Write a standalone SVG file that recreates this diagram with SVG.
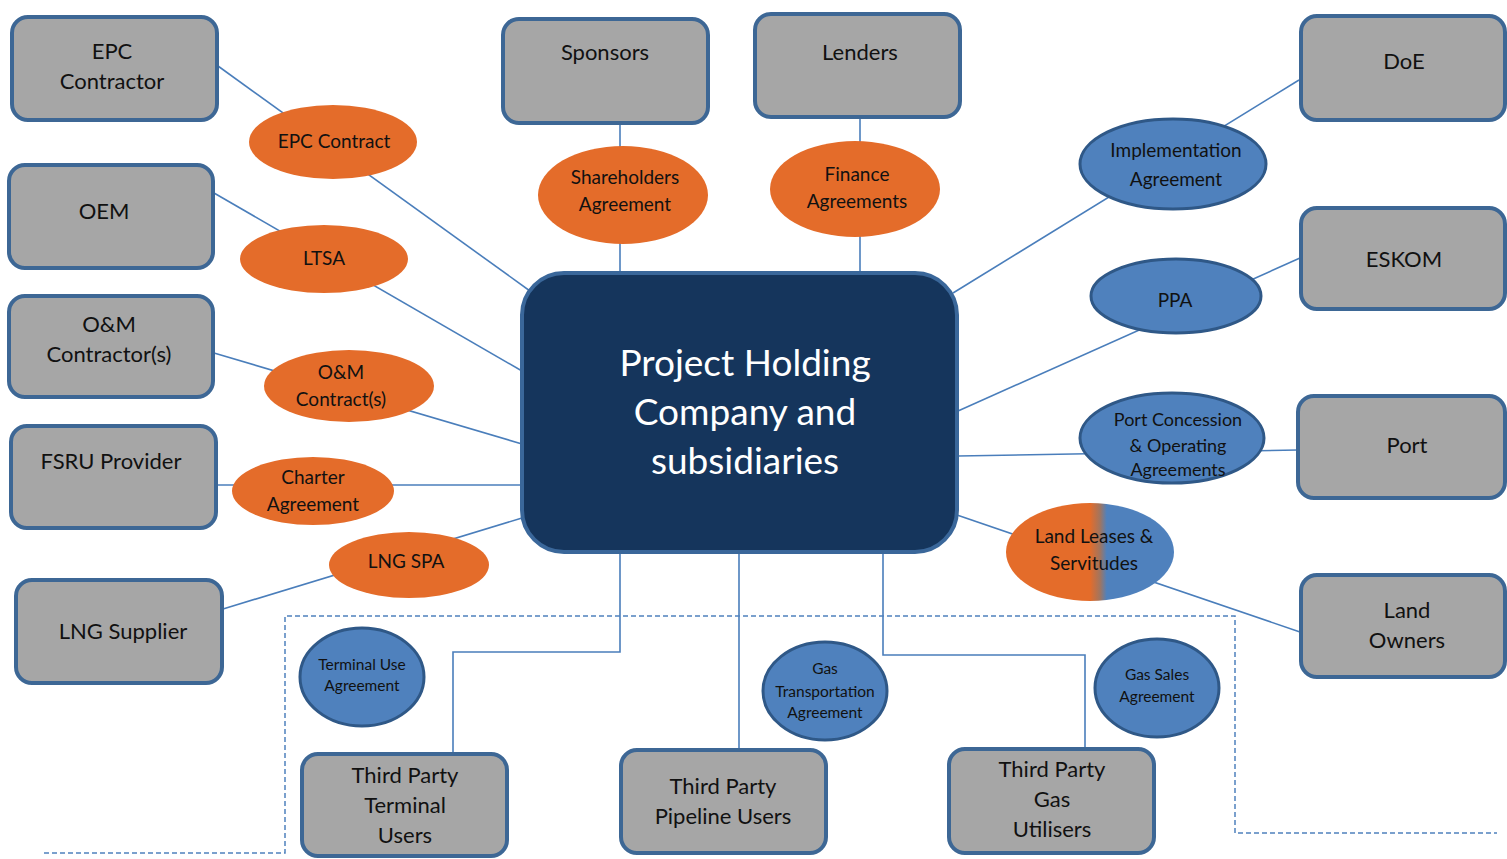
<svg xmlns="http://www.w3.org/2000/svg" width="1507" height="859" viewBox="0 0 1507 859">
<defs>
<style>
.box{fill:#a6a6a6;stroke:#3d6795;stroke-width:4}
.hub{fill:#15355c;stroke:#3a679a;stroke-width:4}
.or{fill:#e46c2a}
.bl{fill:#4f81bd;stroke:#2f5887;stroke-width:3}
.lg{fill:url(#landGrad);stroke:none}
.t{font-family:Lato,"Open Sans","Liberation Sans",sans-serif;fill:#111;text-anchor:middle}
.bt{font-size:22px}
.et{font-size:19px}
.st{font-size:15.5px}
.ht{font-size:37px;fill:#ffffff}
.ln{fill:none;stroke:#4a7ebb;stroke-width:1.6}
.dash{fill:none;stroke:#4f81bd;stroke-width:1.5;stroke-dasharray:5 3}
</style>
<linearGradient id="landGrad" x1="0" y1="0" x2="1" y2="0">
<stop offset="0" stop-color="#e46c2a"/>
<stop offset="0.5" stop-color="#e46c2a"/>
<stop offset="0.56" stop-color="#a07560"/>
<stop offset="0.6" stop-color="#4f81bd"/>
<stop offset="1" stop-color="#4f81bd"/>
</linearGradient>
</defs>
<rect width="1507" height="859" fill="#ffffff"/>

<g id="connectors">
<line class="ln" x1="218" y1="66" x2="530" y2="291"/>
<line class="ln" x1="214" y1="193" x2="522" y2="371"/>
<line class="ln" x1="214" y1="353" x2="522" y2="444"/>
<line class="ln" x1="217" y1="485" x2="522" y2="485"/>
<line class="ln" x1="223" y1="609" x2="522" y2="518"/>
<line class="ln" x1="620" y1="123" x2="620" y2="272"/>
<line class="ln" x1="860" y1="117" x2="860" y2="272"/>
<line class="ln" x1="1299" y1="80" x2="953" y2="293"/>
<line class="ln" x1="1300" y1="258" x2="958" y2="411"/>
<line class="ln" x1="958" y1="456" x2="1298" y2="450"/>
<line class="ln" x1="957" y1="515" x2="1300" y2="632"/>
<polyline class="ln" points="620,553 620,652 453,652 453,753"/>
<line class="ln" x1="739" y1="553" x2="739" y2="750"/>
<polyline class="ln" points="883,553 883,655 1085,655 1085,749"/>
<polyline class="dash" points="44,853 285,853 285,616 1235,616 1235,833 1497,833"/>
</g>

<g id="hub">
<rect class="hub" x="522" y="273" width="435" height="279" rx="42"/>
<text class="t ht" x="745" y="376">Project Holding</text>
<text class="t ht" x="745" y="425">Company and</text>
<text class="t ht" x="745" y="474">subsidiaries</text>
</g>

<g id="epc-contractor">
<rect class="box" x="12" y="17" width="205" height="103" rx="16"/>
<text class="t bt" x="112" y="59">EPC</text>
<text class="t bt" x="112" y="89">Contractor</text>
</g>
<g id="sponsors">
<rect class="box" x="503" y="19" width="205" height="104" rx="16"/>
<text class="t bt" x="605" y="60">Sponsors</text>
</g>
<g id="lenders">
<rect class="box" x="755" y="14" width="205" height="103" rx="16"/>
<text class="t bt" x="860" y="60">Lenders</text>
</g>
<g id="doe">
<rect class="box" x="1301" y="16" width="204" height="104" rx="16"/>
<text class="t bt" x="1404" y="69">DoE</text>
</g>
<g id="oem">
<rect class="box" x="9" y="165" width="204" height="103" rx="16"/>
<text class="t bt" x="104" y="219">OEM</text>
</g>
<g id="eskom">
<rect class="box" x="1301" y="208" width="204" height="101" rx="16"/>
<text class="t bt" x="1404" y="267">ESKOM</text>
</g>
<g id="om-contractor">
<rect class="box" x="9" y="296" width="204" height="101" rx="16"/>
<text class="t bt" x="109" y="332">O&amp;M</text>
<text class="t bt" x="109" y="362">Contractor(s)</text>
</g>
<g id="port">
<rect class="box" x="1298" y="396" width="207" height="102" rx="16"/>
<text class="t bt" x="1407" y="453">Port</text>
</g>
<g id="fsru-provider">
<rect class="box" x="11" y="426" width="205" height="102" rx="16"/>
<text class="t bt" x="111" y="469">FSRU Provider</text>
</g>
<g id="lng-supplier">
<rect class="box" x="16" y="580" width="206" height="103" rx="16"/>
<text class="t bt" x="123" y="639">LNG Supplier</text>
</g>
<g id="land-owners">
<rect class="box" x="1301" y="575" width="204" height="102" rx="16"/>
<text class="t bt" x="1407" y="618">Land</text>
<text class="t bt" x="1407" y="648">Owners</text>
</g>
<g id="tp-terminal-users">
<rect class="box" x="302" y="754" width="205" height="102" rx="16"/>
<text class="t bt" x="405" y="783">Third Party</text>
<text class="t bt" x="405" y="813">Terminal</text>
<text class="t bt" x="405" y="843">Users</text>
</g>
<g id="tp-pipeline-users">
<rect class="box" x="621" y="750" width="205" height="103" rx="16"/>
<text class="t bt" x="723" y="794">Third Party</text>
<text class="t bt" x="723" y="824">Pipeline Users</text>
</g>
<g id="tp-gas-utilisers">
<rect class="box" x="949" y="749" width="205" height="104" rx="16"/>
<text class="t bt" x="1052" y="777">Third Party</text>
<text class="t bt" x="1052" y="807">Gas</text>
<text class="t bt" x="1052" y="837">Utilisers</text>
</g>

<g id="epc-contract">
<ellipse class="or" cx="333" cy="142" rx="84" ry="37"/>
<text class="t et" x="334" y="148">EPC Contract</text>
</g>
<g id="shareholders-agreement">
<ellipse class="or" cx="623" cy="195" rx="85" ry="49"/>
<text class="t et" x="625" y="184">Shareholders</text>
<text class="t et" x="625" y="211">Agreement</text>
</g>
<g id="finance-agreements">
<ellipse class="or" cx="855" cy="189" rx="85" ry="48"/>
<text class="t et" x="857" y="181">Finance</text>
<text class="t et" x="857" y="208">Agreements</text>
</g>
<g id="ltsa">
<ellipse class="or" cx="324" cy="259" rx="84" ry="34"/>
<text class="t et" x="324" y="265">LTSA</text>
</g>
<g id="om-contracts">
<ellipse class="or" cx="349" cy="386" rx="85" ry="36"/>
<text class="t et" x="341" y="379">O&amp;M</text>
<text class="t et" x="341" y="406">Contract(s)</text>
</g>
<g id="charter-agreement">
<ellipse class="or" cx="313" cy="491" rx="81" ry="34"/>
<text class="t et" x="313" y="484">Charter</text>
<text class="t et" x="313" y="511">Agreement</text>
</g>
<g id="lng-spa">
<ellipse class="or" cx="409" cy="565" rx="80" ry="33"/>
<text class="t et" x="406" y="568">LNG SPA</text>
</g>

<g id="implementation-agreement">
<ellipse class="bl" cx="1173" cy="164" rx="93" ry="45"/>
<text class="t et" x="1176" y="157">Implementation</text>
<text class="t et" x="1176" y="186">Agreement</text>
</g>
<g id="ppa">
<ellipse class="bl" cx="1176" cy="296" rx="85" ry="37"/>
<text class="t et" x="1175" y="307">PPA</text>
</g>
<g id="port-concession">
<ellipse class="bl" cx="1172" cy="438" rx="92" ry="45"/>
<text class="t" x="1178" y="426" font-size="18">Port Concession</text>
<text class="t" x="1178" y="452" font-size="18">&amp; Operating</text>
<text class="t" x="1178" y="476" font-size="18">Agreements</text>
</g>
<g id="land-leases">
<ellipse class="lg" cx="1090" cy="552" rx="84" ry="49"/>
<text class="t et" x="1094" y="543">Land Leases &amp;</text>
<text class="t et" x="1094" y="570">Servitudes</text>
</g>
<g id="terminal-use-agreement">
<ellipse class="bl" cx="362" cy="677" rx="62" ry="49"/>
<text class="t st" x="362" y="670">Terminal Use</text>
<text class="t st" x="362" y="691">Agreement</text>
</g>
<g id="gas-transportation-agreement">
<ellipse class="bl" cx="825" cy="691" rx="62" ry="49"/>
<text class="t st" x="825" y="674">Gas</text>
<text class="t st" x="825" y="697">Transportation</text>
<text class="t st" x="825" y="718">Agreement</text>
</g>
<g id="gas-sales-agreement">
<ellipse class="bl" cx="1157" cy="688" rx="62" ry="49"/>
<text class="t st" x="1157" y="680">Gas Sales</text>
<text class="t st" x="1157" y="702">Agreement</text>
</g>
</svg>
